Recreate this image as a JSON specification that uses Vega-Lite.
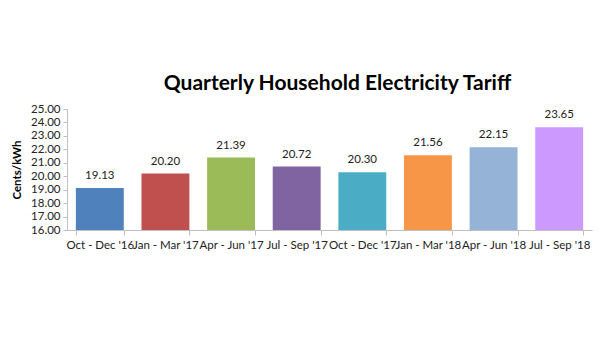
{
  "$schema": "https://vega.github.io/schema/vega-lite/v6.json",
  "autosize": {"type": "none"},
  "width": 525,
  "height": 121,
  "padding": {"left": 67, "top": 109, "right": 8, "bottom": 130},
  "background": "white",
  "config": {"view": {"stroke": null}},
  "title": {
    "text": "Quarterly Household Electricity Tariff",
    "font": "Lato",
    "fontSize": 21,
    "fontWeight": "bold",
    "color": "#000000",
    "anchor": "middle",
    "dx": 8,
    "offset": 9
  },
  "data": {
    "values": [
      {"q": "Oct - Dec '16", "v": 19.13, "c": "#4F81BD"},
      {"q": "Jan - Mar '17", "v": 20.20, "c": "#C0504D"},
      {"q": "Apr - Jun '17", "v": 21.39, "c": "#9BBB59"},
      {"q": "Jul - Sep '17", "v": 20.72, "c": "#8064A2"},
      {"q": "Oct - Dec '17", "v": 20.30, "c": "#4BACC6"},
      {"q": "Jan - Mar '18", "v": 21.56, "c": "#F79646"},
      {"q": "Apr - Jun '18", "v": 22.15, "c": "#95B3D7"},
      {"q": "Jul - Sep '18", "v": 23.65, "c": "#CC99FF"}
    ]
  },
  "encoding": {
    "x": {
      "field": "q", "type": "nominal", "sort": null,
      "scale": {"paddingInner": 0.27, "paddingOuter": 0.135},
      "axis": {
        "title": null, "labelAngle": 0, "tickBand": "extent",
        "labelFont": "Lato", "labelFontSize": 11.5, "labelColor": "#222222",
        "domainColor": "#BFBFBF", "tickColor": "#BFBFBF", "tickSize": 5,
        "labelPadding": 4
      }
    },
    "y": {
      "field": "v", "type": "quantitative",
      "scale": {"domain": [16, 25], "zero": false, "nice": false},
      "axis": {
        "title": "Cents/kWh", "titleFont": "Lato", "titleFontSize": 11.5, "titleFontWeight": "bold",
        "titleColor": "#000000", "titlePadding": 8,
        "values": [16, 17, 18, 19, 20, 21, 22, 23, 24, 25], "format": ".2f",
        "labelFont": "Lato", "labelFontSize": 11.5, "labelColor": "#222222",
        "grid": false, "domainColor": "#BFBFBF", "tickColor": "#BFBFBF", "tickSize": 4,
        "labelPadding": 3
      }
    }
  },
  "layer": [
    {
      "mark": {"type": "bar"},
      "encoding": {
        "y2": {"datum": 16},
        "color": {"field": "c", "type": "nominal", "scale": null}
      }
    },
    {
      "mark": {"type": "text", "baseline": "bottom", "dy": -7, "font": "Lato", "fontSize": 11.5, "color": "#222222"},
      "encoding": {
        "text": {"field": "v", "type": "quantitative", "format": ".2f"}
      }
    }
  ]
}
